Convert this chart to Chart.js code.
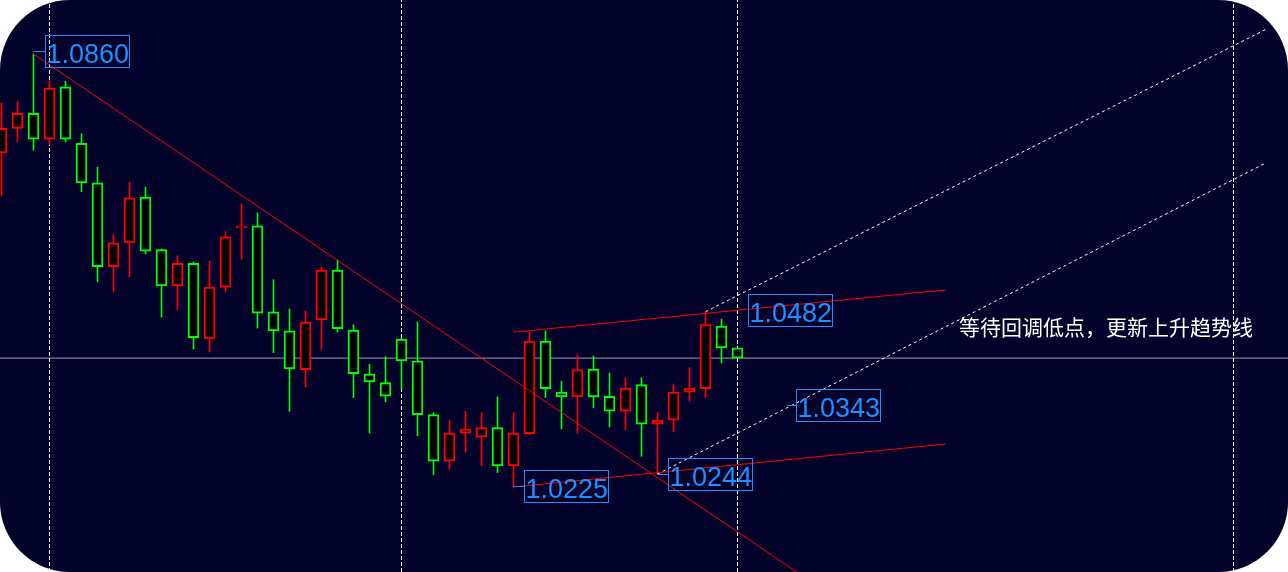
<!DOCTYPE html>
<html>
<head>
<meta charset="utf-8">
<script src="https://cdn.jsdelivr.net/npm/chart.js@4.4.1/dist/chart.umd.min.js"></script>
<style>
  html, body { margin: 0; padding: 0; background: #ffffff; }
  #frame { width: 1288px; height: 572px; border-radius: 70px; overflow: hidden; background: #02022a; }
  canvas { display: block; }
</style>
</head>
<body>
<div id="frame"><canvas id="chart" width="1288" height="572"></canvas></div>
<script>
// Candle data (one entry per bar, left to right)
const opens  = [1.0715,1.0751,1.0773,1.0735,1.0812,1.0729,1.0671,1.0548,1.0583,1.0650,1.0573,1.0520,1.0553,1.0442,1.0518,1.0605,1.0608,1.0482,1.0454,1.0397,1.0470,1.0543,1.0455,1.0391,1.0378,1.0442,1.0410,1.0331,1.0263,1.0304,1.0298,1.0312,1.0256,1.0303,1.0439,1.0364,1.0357,1.0398,1.0358,1.0336,1.0375,1.0317,1.0323,1.0364,1.0369,1.0461,1.0429];
const highs  = [1.0788,1.0790,1.0860,1.0820,1.0820,1.0743,1.0694,1.0595,1.0672,1.0665,1.0574,1.0564,1.0555,1.0556,1.0599,1.0640,1.0627,1.0529,1.0486,1.0483,1.0548,1.0558,1.0463,1.0405,1.0416,1.0443,1.0467,1.0334,1.0323,1.0336,1.0334,1.0357,1.0334,1.0452,1.0454,1.0380,1.0419,1.0417,1.0392,1.0385,1.0385,1.0334,1.0376,1.0400,1.0482,1.0471,1.0429];
const lows   = [1.0652,1.0731,1.0719,1.0727,1.0731,1.0658,1.0526,1.0511,1.0533,1.0567,1.0474,1.0485,1.0427,1.0423,1.0511,1.0559,1.0458,1.0422,1.0336,1.0372,1.0427,1.0452,1.0356,1.0304,1.0350,1.0369,1.0300,1.0243,1.0251,1.0276,1.0256,1.0246,1.0225,1.0302,1.0356,1.0310,1.0304,1.0341,1.0313,1.0309,1.0270,1.0244,1.0306,1.0351,1.0356,1.0407,1.0414];
const closes = [1.0751,1.0773,1.0735,1.0810,1.0735,1.0671,1.0548,1.0583,1.0649,1.0571,1.0520,1.0553,1.0444,1.0518,1.0592,1.0608,1.0480,1.0454,1.0398,1.0467,1.0543,1.0457,1.0391,1.0379,1.0358,1.0410,1.0331,1.0263,1.0304,1.0310,1.0312,1.0256,1.0304,1.0439,1.0369,1.0357,1.0397,1.0357,1.0336,1.0370,1.0317,1.0323,1.0364,1.0370,1.0463,1.0429,1.0414];

// Trend lines: [start bar, end bar] and [start price, end price]
const downTrendX = [2, 52];
const downTrendY = [1.0860, 1.00635];
const channelTopX = [32, 59];
const channelTopY = [1.0452, 1.0514];
const channelBottomX = [32, 59];
const channelBottomY = [1.0225, 1.0288];
const dottedTopX = [44, 79.1];
const dottedTopY = [1.0482, 1.0897];
const dottedBottomX = [41, 79];
const dottedBottomY = [1.0244, 1.0700];

// Period separators (bar index) and current price
const separators = [3, 25, 46, 77];
const currentPrice = 1.0414;

// Price tags
const tagBars = [2, 44, 49.1, 32, 41];
const tagPrices = [1.0860, 1.0482, 1.0343, 1.0225, 1.0244];
const noteText = '等待回调低点，更新上升趋势线';
const noteBar = 59.84;
const notePrice = 1.0459;

// Scale range
const xMin = -0.09375, xMax = 80.40625;
const yMin = 1.01003, yMax = 1.09392;

const UP = '#ff0000';
const DOWN = '#00ff00';
const candleColors = opens.map((o, i) => closes[i] >= o ? UP : DOWN);

function segment(xs, ys) {
  return xs.map((x, i) => ({ x: x, y: ys[i] }));
}

function lineSet(data, color, dash, order) {
  return {
    type: 'line',
    data: data,
    borderColor: color,
    borderWidth: 1,
    borderDash: dash,
    pointRadius: 0,
    fill: false,
    tension: 0,
    order: order
  };
}

const datasets = [];

// separators and current price line sit behind the candles
separators.forEach(s => {
  datasets.push(lineSet(segment([s, s], [yMin, yMax]), '#ffffff', [4, 2], 10));
});
datasets.push(lineSet(segment([xMin, xMax], [currentPrice, currentPrice]), '#a0a0aa', [], 10));

datasets.push({
  type: 'bar',
  data: lows.map((l, i) => ({ x: i, y: [l, highs[i]] })),
  backgroundColor: candleColors,
  borderWidth: 0,
  barThickness: 1,
  grouped: false,
  order: 6
});
datasets.push({
  type: 'bar',
  data: opens.map((o, i) => ({ x: i, y: [o, closes[i]] })),
  backgroundColor: '#000000',
  borderColor: candleColors,
  borderWidth: 2,
  borderSkipped: false,
  barThickness: 11,
  grouped: false,
  order: 5
});

datasets.push(lineSet(segment(downTrendX, downTrendY), '#ff0000', [], 1));
datasets.push(lineSet(segment(channelTopX, channelTopY), '#ff0000', [], 1));
datasets.push(lineSet(segment(channelBottomX, channelBottomY), '#ff0000', [], 1));
datasets.push(lineSet(segment(dottedTopX, dottedTopY), '#ffffff', [3, 3], 1));
datasets.push(lineSet(segment(dottedBottomX, dottedBottomY), '#ffffff', [3, 3], 1));

// box offsets from each tag's anchor point (px)
const tagOffsets = [[11, -19], [42.5, -18], [9, -17.5], [10.5, -17], [10.5, -16]];

const tagsPlugin = {
  id: 'tags',
  afterDatasetsDraw(chart) {
    const ctx = chart.ctx;
    const xs = chart.scales.x, ys = chart.scales.y;
    ctx.save();
    tagBars.forEach((b, i) => {
      const px = xs.getPixelForValue(b);
      const py = ys.getPixelForValue(tagPrices[i]);
      const left = Math.round(px + tagOffsets[i][0]) + 0.5;
      const top = Math.round(py + tagOffsets[i][1]) + 0.5;
      ctx.strokeStyle = '#1e90ff';
      ctx.lineWidth = 1;
      if (tagOffsets[i][0] < 20) {
        ctx.beginPath();
        ctx.moveTo(px, top + 16);
        ctx.lineTo(left, top + 16);
        ctx.stroke();
      }
      ctx.strokeRect(left, top, 84, 32);
      ctx.fillStyle = '#1e90ff';
      ctx.font = '27px "Liberation Sans", Arial, sans-serif';
      ctx.textBaseline = 'alphabetic';
      ctx.textAlign = 'left';
      ctx.fillText(tagPrices[i].toFixed(4), left + 1, top + 27);
    });
    ctx.fillStyle = '#ffffff';
    ctx.font = '21px "Noto Sans CJK SC", sans-serif';
    ctx.textBaseline = 'middle';
    ctx.fillText(noteText, xs.getPixelForValue(noteBar), ys.getPixelForValue(notePrice));
    ctx.restore();
  }
};

new Chart(document.getElementById('chart'), {
  type: 'bar',
  data: { datasets: datasets },
  options: {
    responsive: false,
    animation: false,
    devicePixelRatio: 1,
    layout: { padding: 0 },
    plugins: { legend: { display: false }, tooltip: { enabled: false } },
    scales: {
      x: { type: 'linear', min: xMin, max: xMax, display: false, offset: false },
      y: { type: 'linear', min: yMin, max: yMax, display: false }
    }
  },
  plugins: [tagsPlugin]
});
</script>
</body>
</html>
